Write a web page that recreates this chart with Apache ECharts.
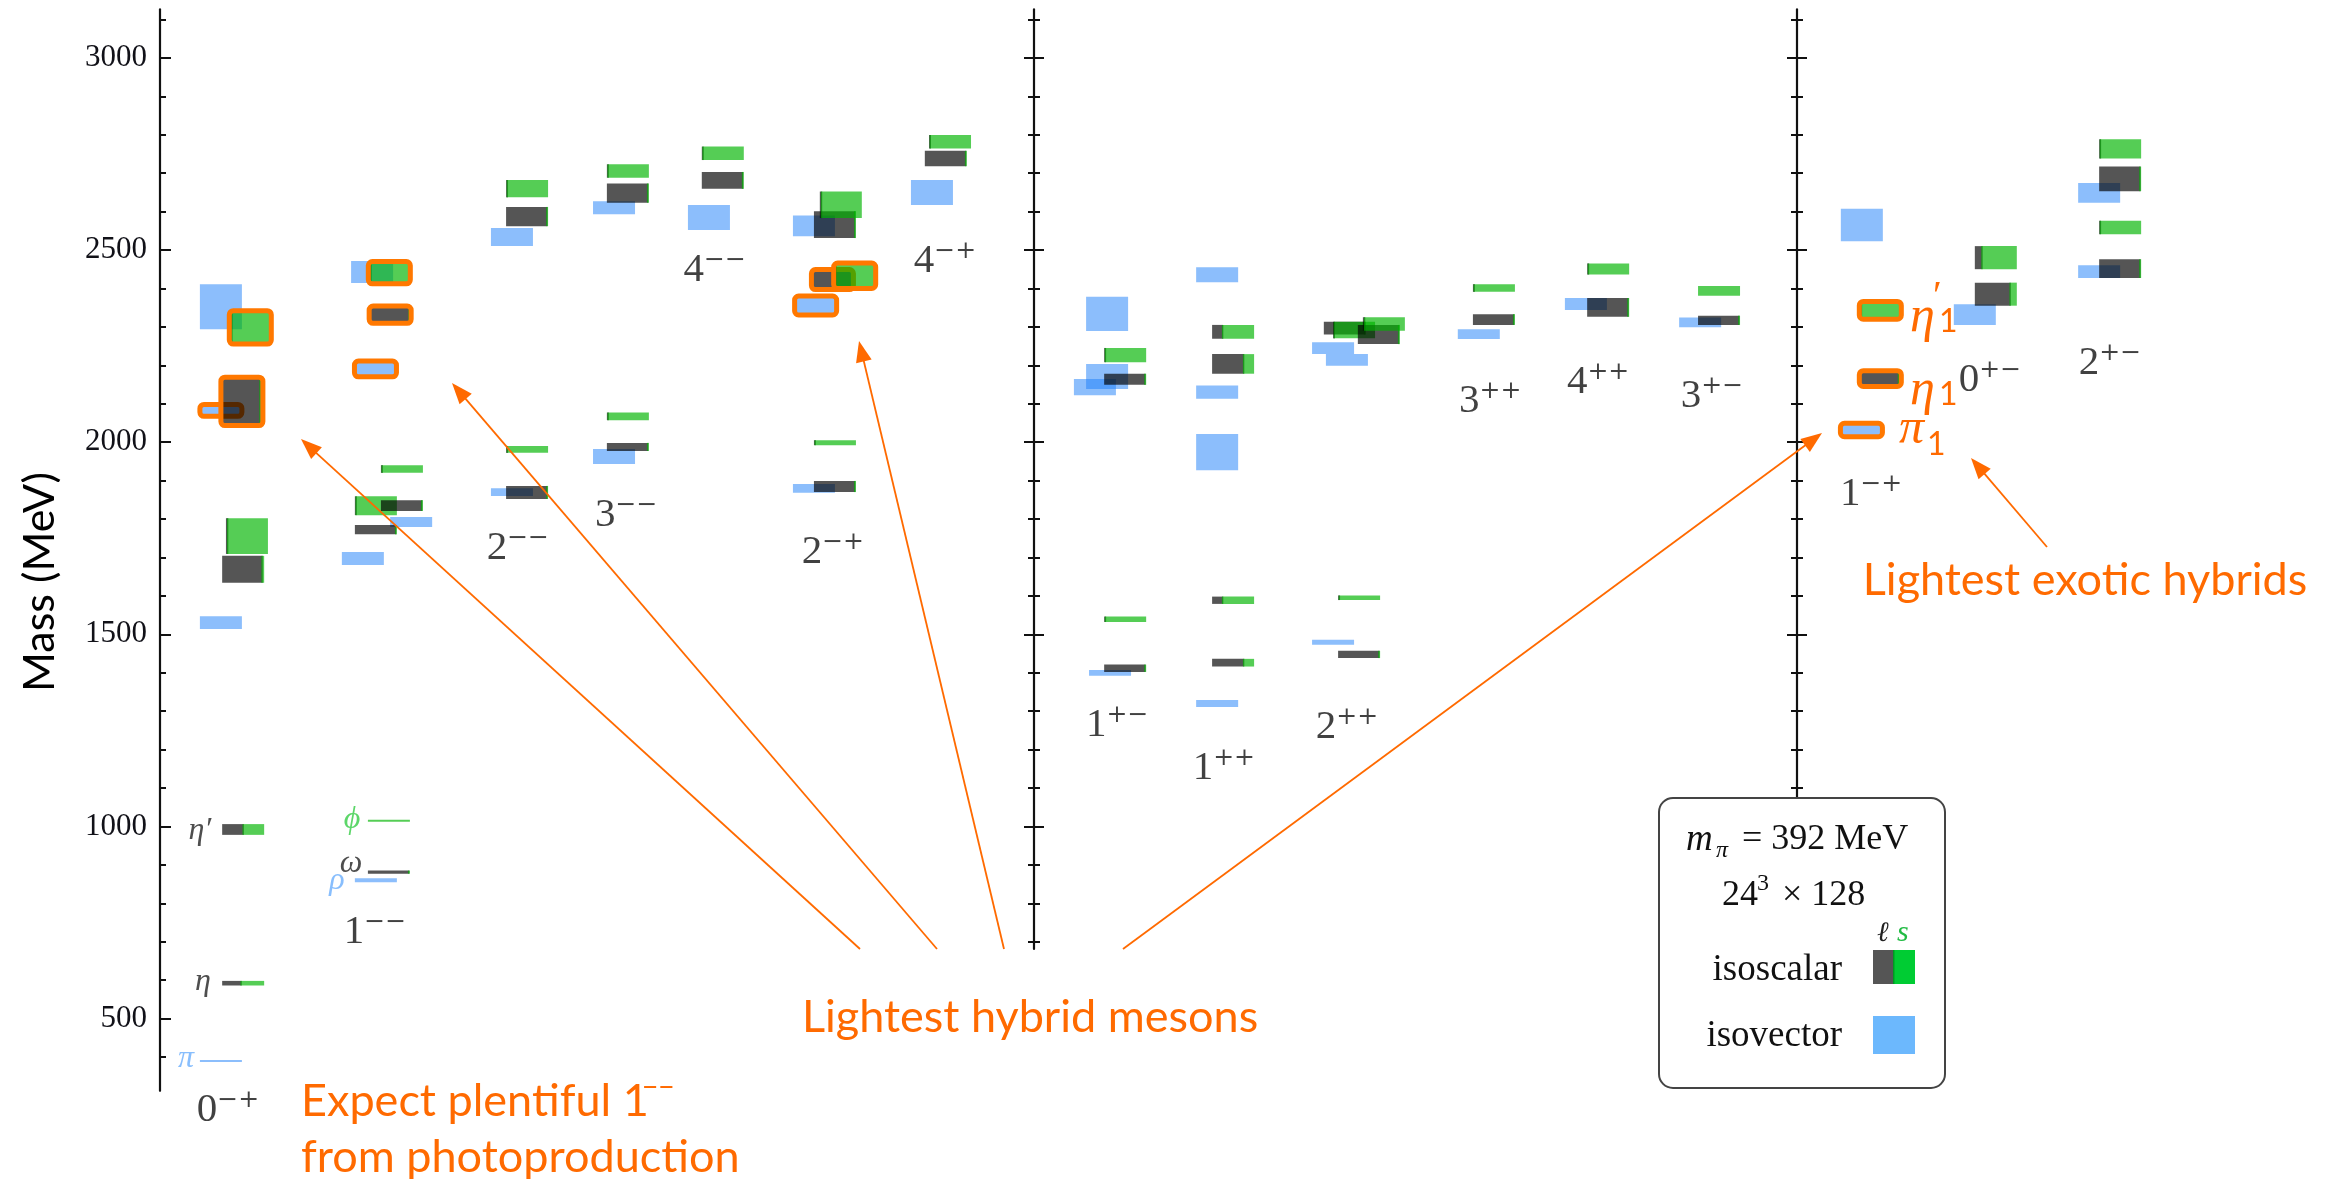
<!DOCTYPE html>
<html><head><meta charset="utf-8">
<script src="https://cdn.jsdelivr.net/npm/echarts@6/dist/echarts.min.js"></script>
<style>html,body{margin:0;padding:0;background:#fff}#c{width:2326px;height:1179px}</style>
</head><body><div id="c"></div>
<script>
// ---------- DATA ----------
// Axis tick values (MeV)
const majorTicks = [500, 1000, 1500, 2000, 2500, 3000];
const minorTicks = [400, 600, 700, 800, 900, 1100, 1200, 1300, 1400, 1600, 1700, 1800, 1900,
  2100, 2200, 2300, 2400, 2600, 2700, 2800, 2900, 3100];

// Isovector states: [x slot (bar-width units), mass low, mass high, hybrid flag]
const isovectorStates = [
  [0.95, 387, 392, 0], [0.95, 1514, 1547, 0], [0.95, 2067, 2098, 1], [0.95, 2294, 2411, 0],
  [4.64, 855, 865, 0], [4.33, 1680, 1714, 0], [5.48, 1779, 1805, 0], [4.63, 2170, 2211, 1], [4.55, 2414, 2471, 0],
  [7.88, 1860, 1880, 0], [7.88, 2510, 2557, 0],
  [10.31, 1943, 1982, 0], [10.31, 2593, 2627, 0],
  [12.57, 2552, 2617, 0],
  [15.07, 1868, 1891, 0], [15.11, 2331, 2380, 1], [15.07, 2536, 2590, 0],
  [17.88, 2617, 2682, 0],
  [22.12, 1392, 1407, 0], [21.76, 2122, 2164, 0], [22.05, 2138, 2203, 0], [22.05, 2289, 2378, 0],
  [24.67, 1311, 1329, 0], [24.67, 1927, 2021, 0], [24.67, 2113, 2147, 0], [24.67, 2416, 2455, 0],
  [27.43, 1473, 1486, 0], [27.76, 2199, 2229, 0], [27.43, 2229, 2260, 0],
  [30.90, 2268, 2294, 0],
  [33.45, 2344, 2375, 0],
  [36.17, 2299, 2324, 0],
  [40.01, 2014, 2049, 1], [40.02, 2523, 2607, 0],
  [42.71, 2305, 2359, 0],
  [45.67, 2427, 2460, 0], [45.67, 2623, 2674, 0]
];

// Isoscalar states: [x slot, mass low, mass high, light-quark fraction, hybrid flag]
const isoscalarStates = [
  [1.48, 586, 598, 0.45, 0], [1.48, 978, 1006, 0.5, 0], [1.48, 1634, 1704, 0.95, 0], [1.57, 1709, 1802, 0.04, 0],
  [1.45, 2043, 2169, 0.93, 1], [1.65, 2255, 2342, 0.06, 1],
  [4.95, 877, 885, 0.97, 0], [4.95, 1013, 1017, 0.0, 0], [4.64, 1760, 1784, 0.97, 0], [4.64, 1810, 1859, 0.03, 0],
  [5.26, 1821, 1849, 0.97, 0], [5.26, 1920, 1940, 0.03, 0], [4.98, 2309, 2354, 0.95, 1], [4.96, 2412, 2470, 0.06, 1],
  [8.24, 1852, 1886, 0.97, 0], [8.24, 1972, 1990, 0.03, 0], [8.24, 2562, 2612, 0.97, 0], [8.24, 2637, 2682, 0.03, 0],
  [10.64, 1977, 1998, 0.97, 0], [10.64, 2057, 2077, 0.03, 0], [10.64, 2623, 2673, 0.97, 0], [10.64, 2688, 2723, 0.03, 0],
  [12.90, 2659, 2703, 0.97, 0], [12.90, 2734, 2769, 0.03, 0],
  [15.57, 1870, 1899, 0.97, 0], [15.57, 1992, 2005, 0.03, 0], [15.57, 2531, 2601, 0.97, 0], [15.71, 2583, 2652, 0.04, 0],
  [15.51, 2397, 2449, 0.97, 1], [16.04, 2400, 2466, 0.05, 1],
  [18.21, 2718, 2758, 0.97, 0], [18.31, 2764, 2799, 0.03, 0],
  [22.48, 1402, 1421, 0.97, 0], [22.48, 1532, 1546, 0.03, 0], [22.48, 2149, 2178, 0.97, 0], [22.48, 2208, 2245, 0.03, 0],
  [25.05, 1416, 1436, 0.75, 0], [25.05, 1579, 1598, 0.25, 0], [25.05, 2178, 2229, 0.75, 0], [25.05, 2269, 2305, 0.25, 0],
  [28.05, 1438, 1457, 0.97, 0], [28.05, 1589, 1601, 0.03, 0],
  [27.71, 2280, 2313, 0.97, 0], [27.93, 2270, 2313, 0.03, 0], [28.52, 2255, 2305, 0.97, 0], [28.64, 2290, 2325, 0.04, 0],
  [31.26, 2305, 2333, 0.97, 0], [31.26, 2391, 2411, 0.03, 0],
  [33.98, 2326, 2375, 0.97, 0], [33.98, 2436, 2465, 0.03, 0],
  [36.62, 2305, 2329, 0.97, 0], [36.62, 2381, 2406, 0.0, 0],
  [40.46, 2145, 2186, 0.93, 1], [40.46, 2320, 2366, 0.05, 1],
  [43.21, 2355, 2415, 0.84, 0], [43.21, 2450, 2510, 0.17, 0],
  [46.17, 2427, 2476, 0.97, 0], [46.17, 2541, 2576, 0.03, 0], [46.17, 2653, 2717, 0.97, 0], [46.17, 2738, 2788, 0.03, 0]
];

// J^PC channel labels: [J, PC, x slot, mass at label centre]
const jpcLabels = [
  ['0', '−+', 1.62, 262], ['1', '−−', 5.12, 725], ['2', '−−', 8.52, 1724], ['3', '−−', 11.10, 1810],
  ['4', '−−', 13.21, 2448], ['2', '−+', 16.02, 1714], ['4', '−+', 18.69, 2471],
  ['1', '+−', 22.79, 1264], ['1', '++', 25.33, 1152], ['2', '++', 28.26, 1259],
  ['3', '++', 31.67, 2107], ['4', '++', 34.24, 2156], ['3', '+−', 36.95, 2120],
  ['1', '−+', 40.74, 1865], ['0', '+−', 43.57, 2162], ['2', '+−', 46.43, 2206]
];

// Ground-state names: [name, kind (v=isovector, l=light, s=strange), x slot, mass]
const groundLabels = [
  ['η′', 'l', 0.95, 988], ['η', 'l', 1.02, 596], ['π', 'v', 0.62, 395],
  ['ϕ', 's', 4.57, 1019], ['ω', 'l', 4.55, 902], ['ρ', 'v', 4.21, 858]
];

// ---------- STYLE ----------
const BLUE = 'rgba(25,125,250,0.5)';
const DARK = 'rgba(0,0,0,0.667)';
const GREEN = 'rgba(0,180,0,0.667)';
const ORANGE = '#ff7800';
const ANN = '#ff6a00';
const Y_MIN = 312, Y_MAX = 3126;
const kindColor = { v: '#6aaefc', l: '#222', s: '#33cc44' };

const chart = echarts.init(document.getElementById('c'), null, { renderer: 'canvas' });

function rectOf(api, u, lo, hi) {
  const p0 = api.coord([u, hi]);
  const p1 = api.coord([u + 1, lo]);
  const h = Math.max(p1[1] - p0[1], 1.8);
  return { x: p0[0], y: p0[1], w: p1[0] - p0[0], h: h };
}
function outline(r) {
  return { type: 'rect', shape: { x: r.x, y: r.y, width: r.w, height: r.h, r: 4 },
    style: { fill: 'none', stroke: ORANGE, lineWidth: 5 } };
}
function renderVector(params, api) {
  const r = rectOf(api, api.value(0), api.value(1), api.value(2));
  const ch = [{ type: 'rect', shape: { x: r.x, y: r.y, width: r.w, height: r.h }, style: { fill: BLUE } }];
  if (api.value(3)) ch.push(outline(r));
  return { type: 'group', children: ch };
}
function renderScalar(params, api) {
  const r = rectOf(api, api.value(0), api.value(1), api.value(2));
  const f = api.value(3);
  const xs = r.x + f * r.w;
  const ch = [];
  if (f > 0) ch.push({ type: 'rect', shape: { x: r.x, y: r.y, width: Math.min(r.w, f * r.w + 0.7), height: r.h }, style: { fill: DARK } });
  if (f < 1) {
    const gx = Math.max(r.x, xs - 0.7);
    ch.push({ type: 'rect', shape: { x: gx, y: r.y, width: r.x + r.w - gx, height: r.h }, style: { fill: GREEN } });
  }
  if (api.value(4)) ch.push(outline(r));
  return { type: 'group', children: ch };
}

function yAx(grid, min, o) {
  return Object.assign({
    gridIndex: grid, type: 'value', min: min, max: Y_MAX, position: 'left',
    splitLine: { show: false }, axisLine: { show: false },
    axisLabel: { show: false }, axisTick: { show: false }
  }, o);
}
function ticks(vals, len, inside) {
  return { show: true, inside: inside, length: len, customValues: vals, lineStyle: { color: '#111', width: 2 } };
}
const LINE = { show: true, onZero: false, lineStyle: { color: '#111', width: 2.2 } };
const midMin = 681, rightMin = 1074;
const midMinor = minorTicks.filter(v => v > midMin), midMajor = majorTicks.filter(v => v > midMin);
const rMinor = minorTicks.filter(v => v > rightMin), rMajor = majorTicks.filter(v => v > rightMin);

// ---------- ANNOTATIONS ----------
function txt(x, y, text, font, fill, align, valign, extra) {
  return Object.assign({ type: 'text', x: x, y: y, z: 100,
    style: { text: text, font: font, fill: fill, align: align || 'left', textAlign: align || 'left',
      verticalAlign: valign || 'middle', textVerticalAlign: valign || 'middle' } }, extra || {});
}
function arrow(x1, y1, x2, y2) {
  const dx = x2 - x1, dy = y2 - y1, L = Math.hypot(dx, dy), ux = dx / L, uy = dy / L;
  const hl = 21, hw = 8;
  const bx = x2 - ux * hl, by = y2 - uy * hl;
  return [
    { type: 'line', z: 100, shape: { x1: x1, y1: y1, x2: bx + ux * 2, y2: by + uy * 2 }, style: { stroke: ANN, lineWidth: 1.8 } },
    { type: 'polygon', z: 100, shape: { points: [[x2, y2], [bx - uy * hw, by + ux * hw], [bx + uy * hw, by - ux * hw]] }, style: { fill: ANN } }
  ];
}
const SANS = '"Lato", "Open Sans", sans-serif';
const SERIF = '"Liberation Serif", "DejaVu Serif", serif';
const graphics = [].concat(
  arrow(860, 949, 301, 439), arrow(937, 949, 452, 383), arrow(1004, 949, 859, 341),
  arrow(1123, 949, 1822, 433), arrow(2047, 547, 1971, 458),
  [
    txt(1030, 1017, 'Lightest hybrid mesons', '45px ' + SANS, ANN, 'center'),
    txt(2085, 580, 'Lightest exotic hybrids', '45px ' + SANS, ANN, 'center'),
    txt(301, 1101, 'Expect plentiful 1', '45px ' + SANS, ANN, 'left'),
    txt(642, 1088, '−−', '28px ' + SANS, ANN, 'left'),
    txt(301, 1157, 'from photoproduction', '45px ' + SANS, ANN, 'left'),
    txt(40, 582, 'Mass (MeV)', '43px ' + SANS, '#000', 'center', 'middle', { rotation: Math.PI / 2 }),
    // exotic hybrid names
    txt(1910, 318, 'η', 'italic 50px ' + SERIF, ANN, 'left'),
    txt(1933, 297, '′', '40px ' + SERIF, ANN, 'left'),
    txt(1939, 322, '1', '32px ' + SANS, ANN, 'left'),
    txt(1910, 391, 'η', 'italic 50px ' + SERIF, ANN, 'left'),
    txt(1939, 395, '1', '32px ' + SANS, ANN, 'left'),
    txt(1899, 430, 'π', 'italic 50px ' + SERIF, ANN, 'left'),
    txt(1927, 445, '1', '32px ' + SANS, ANN, 'left'),
    // legend box
    { type: 'rect', z: 90, shape: { x: 1659, y: 798, width: 286, height: 290, r: 14 },
      style: { fill: '#fff', stroke: '#444', lineWidth: 2 } },
    txt(1686, 840, 'm', 'italic 37px ' + SERIF, '#111', 'left'),
    txt(1716, 851, 'π', 'italic 24px ' + SERIF, '#111', 'left'),
    txt(1742, 840, '= 392 MeV', '36px ' + SERIF, '#111', 'left'),
    txt(1722, 896, '24', '36px ' + SERIF, '#111', 'left'),
    txt(1757, 884, '3', '24px ' + SERIF, '#111', 'left'),
    txt(1782, 896, '× 128', '36px ' + SERIF, '#111', 'left'),
    txt(1877, 934, 'ℓ', 'italic 28px ' + SERIF, '#222', 'left'),
    txt(1897, 933, 's', 'italic 30px ' + SERIF, '#22bb44', 'left'),
    txt(1842, 970, 'isoscalar', '37px ' + SERIF, '#111', 'right'),
    txt(1842, 1036, 'isovector', '37px ' + SERIF, '#111', 'right'),
    { type: 'rect', z: 100, shape: { x: 1873, y: 950, width: 22, height: 34 }, style: { fill: '#555555' } },
    { type: 'rect', z: 100, shape: { x: 1894, y: 950, width: 21, height: 34 }, style: { fill: '#00cc33' } },
    { type: 'rect', z: 100, shape: { x: 1893, y: 950, width: 1.5, height: 34 }, style: { fill: '#009922' } },
    { type: 'rect', z: 100, shape: { x: 1873, y: 1016, width: 42, height: 38 }, style: { fill: '#6cb8fd' } }
  ]
);

const option = {
  animation: false,
  backgroundColor: '#fff',
  grid: [
    { left: 160, top: 9.4, width: 2163, height: 1081.4 },
    { left: 1034, top: 9.4, width: 40, height: 939.6 },
    { left: 1797, top: 9.4, width: 40, height: 788.6 }
  ],
  xAxis: [
    { gridIndex: 0, type: 'value', min: 0, max: 51.5, show: false },
    { gridIndex: 1, type: 'value', min: 0, max: 1, show: false },
    { gridIndex: 2, type: 'value', min: 0, max: 1, show: false }
  ],
  yAxis: [
    yAx(0, Y_MIN, { axisLine: LINE, axisTick: ticks(majorTicks, 11, true),
      axisLabel: { show: true, customValues: majorTicks, margin: 13, fontFamily: SERIF, fontSize: 31,
        color: '#111118', formatter: v => String(Math.round(v)) } }),
    yAx(0, Y_MIN, { axisTick: ticks(minorTicks, 6, true) }),
    yAx(1, midMin, { axisLine: LINE, axisTick: ticks(midMajor, 10, true) }),
    yAx(1, midMin, { axisTick: ticks(midMajor, 10, false) }),
    yAx(1, midMin, { axisTick: ticks(midMinor, 6, true) }),
    yAx(1, midMin, { axisTick: ticks(midMinor, 6, false) }),
    yAx(2, rightMin, { axisLine: LINE, axisTick: ticks(rMajor, 10, true) }),
    yAx(2, rightMin, { axisTick: ticks(rMajor, 10, false) }),
    yAx(2, rightMin, { axisTick: ticks(rMinor, 6, true) }),
    yAx(2, rightMin, { axisTick: ticks(rMinor, 6, false) })
  ],
  series: [
    { type: 'custom', name: 'isovector', xAxisIndex: 0, yAxisIndex: 0, silent: true, clip: false,
      renderItem: renderVector, data: isovectorStates, encode: { x: 0, y: [1, 2] } },
    { type: 'custom', name: 'isoscalar', xAxisIndex: 0, yAxisIndex: 0, silent: true, clip: false,
      renderItem: renderScalar, data: isoscalarStates, encode: { x: 0, y: [1, 2] } },
    { type: 'scatter', name: 'JPC', xAxisIndex: 0, yAxisIndex: 0, silent: true, clip: false,
      symbolSize: 1, itemStyle: { color: 'rgba(0,0,0,0)' },
      data: jpcLabels.map(d => ({ value: [d[2], d[3]], j: d[0], pc: d[1] })),
      label: { show: true, position: 'inside', formatter: p => '{d|' + p.data.j + '}{s|' + p.data.pc + '}',
        rich: {
          d: { fontFamily: SERIF, fontSize: 41, lineHeight: 44, color: '#111' },
          s: { fontFamily: '"DejaVu Serif", serif', fontSize: 25, lineHeight: 24, verticalAlign: 'top', color: '#111' }
        } } },
    { type: 'scatter', name: 'ground', xAxisIndex: 0, yAxisIndex: 0, silent: true, clip: false,
      symbolSize: 1, itemStyle: { color: 'rgba(0,0,0,0)' },
      data: groundLabels.map(d => ({ value: [d[2], d[3]], t: d[0], label: { color: kindColor[d[1]] } })),
      label: { show: true, position: 'inside', formatter: p => p.data.t,
        fontFamily: SERIF, fontStyle: 'italic', fontSize: 32 } }
  ],
  graphic: { elements: graphics }
};
chart.setOption(option);
</script>
</body></html>
